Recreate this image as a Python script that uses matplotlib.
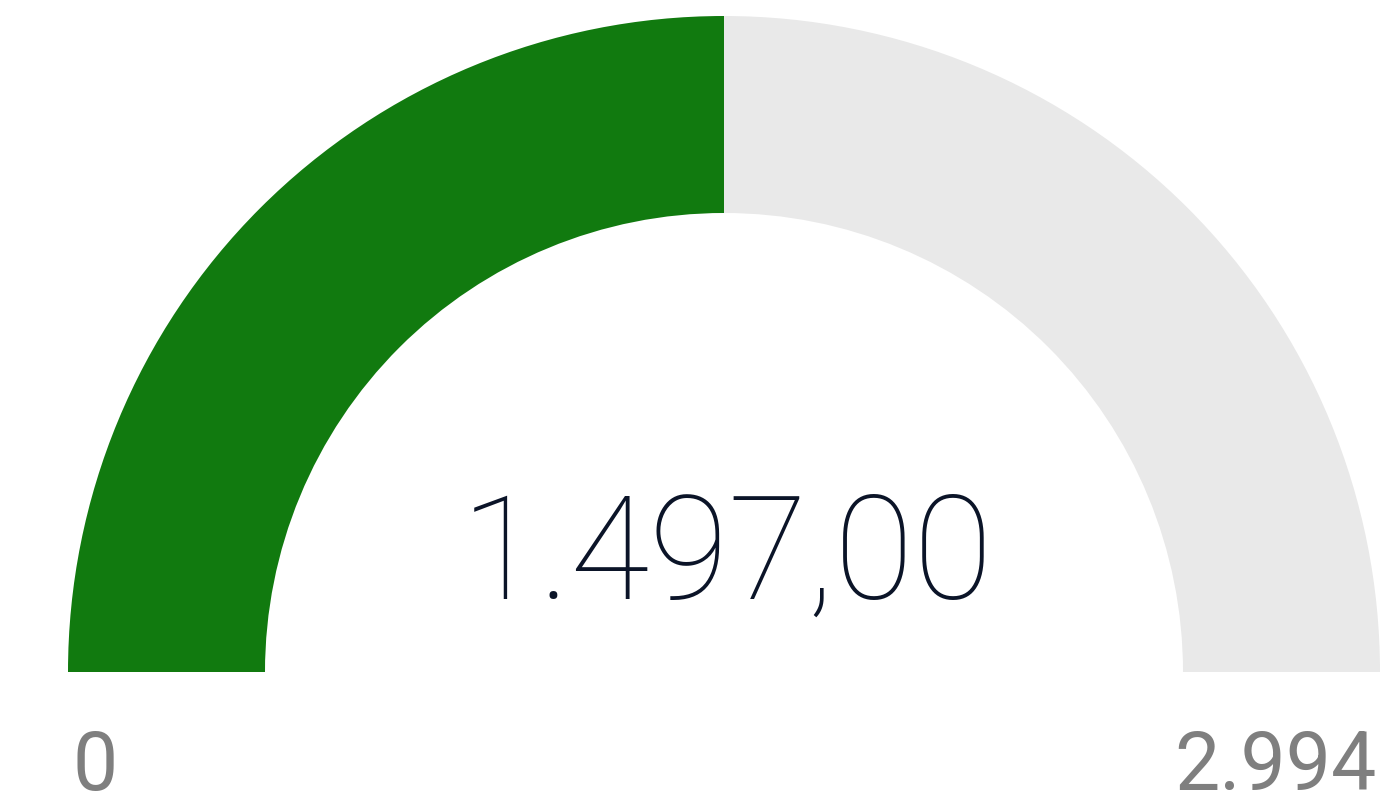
import matplotlib
matplotlib.use("Agg")
import matplotlib.pyplot as plt
from matplotlib.patches import Wedge

value = 1497
gauge_min = 0
gauge_max = 2994
value_label = "1.497,00"
min_label = "0"
max_label = "2.994"

W, H = 1383, 803
fig = plt.figure(figsize=(W / 100, H / 100), dpi=100)
ax = fig.add_axes([0, 0, 1, 1])
ax.set_xlim(0, W)
ax.set_ylim(0, H)
ax.set_aspect("equal")
ax.axis("off")

cx, cy = 724, H - 673
r_out, r_in = 656, 459
frac = (value - gauge_min) / (gauge_max - gauge_min)
split = 180 - 180 * frac

ax.add_patch(Wedge((cx, cy), r_out, 0, split, width=r_out - r_in, color="#e9e9e9", lw=0))
ax.add_patch(Wedge((cx, cy), r_out, split, 180, width=r_out - r_in, color="#117a0f", lw=0))

# Roboto is the narrowest installed face, so go a bit smaller than the cap height
ax.text(727, H - 599, value_label, ha="center", va="baseline", fontsize=104,
        family="Roboto", weight="light", color="#0b1428")
ax.text(72, H - 790, min_label, ha="left", va="baseline", fontsize=58,
        family="Roboto", color="#7f7f7f")
ax.text(1377, H - 790, max_label, ha="right", va="baseline", fontsize=58,
        family="Roboto", color="#7f7f7f")

fig.savefig("out.png", dpi=100)
